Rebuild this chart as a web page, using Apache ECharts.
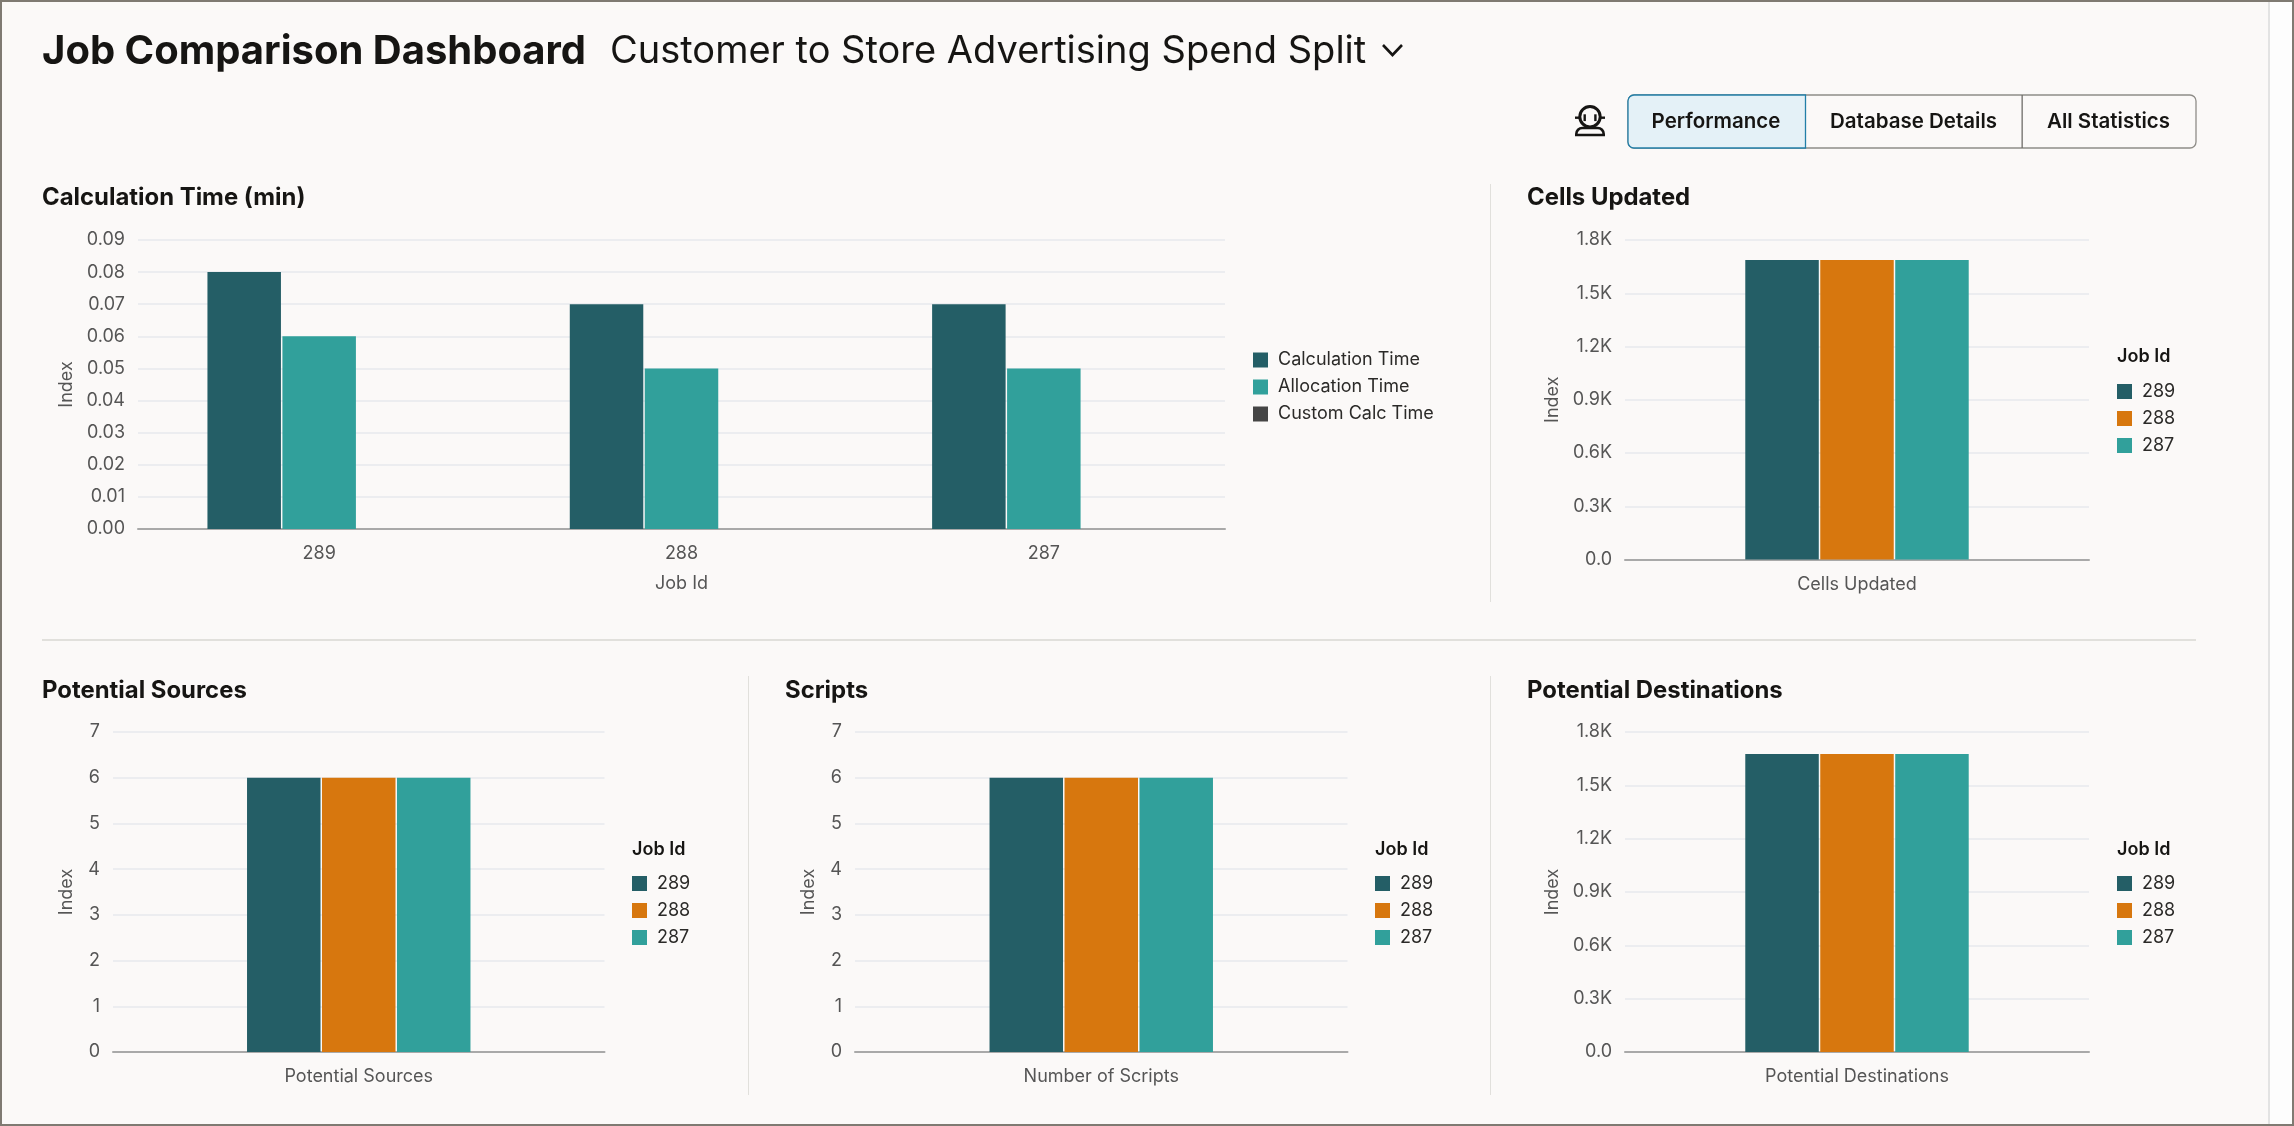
<!DOCTYPE html>
<html>
<head>
<meta charset="utf-8">
<style>html,body{margin:0;padding:0;background:#fbf9f8;overflow:hidden}#c{width:2294px;height:1126px}</style>
<script src="https://cdn.jsdelivr.net/npm/echarts@6/dist/echarts.min.js"></script>
</head>
<body>
<div id="c"></div>
<script>
const jobIds = ['289', '288', '287'];
const calculationTime = [0.08, 0.07, 0.07];
const allocationTime = [0.06, 0.05, 0.05];
const customCalcTime = [0, 0, 0];
const cellsUpdated = [1687, 1687, 1687];
const potentialSources = [6, 6, 6];
const numberOfScripts = [6, 6, 6];
const potentialDestinations = [1676, 1676, 1676];
const timeLegend = ['Calculation Time', 'Allocation Time', 'Custom Calc Time'];

const DARK = '#245e66', ORANGE = '#d7770e', TEAL = '#31a09b', GREY = '#454545';
const FONT = 'Inter';
const LABEL = '#555555';

const grids = [], xAxes = [], yAxes = [], series = [], legends = [], titles = [];
function chart(o) {
  const i = grids.length;
  grids.push({left: o.l, top: o.t, width: o.r - o.l, height: o.b - o.t});
  xAxes.push({
    type: 'category', gridIndex: i, data: o.cats,
    name: o.xName || '', nameLocation: 'middle', nameGap: 46,
    nameTextStyle: {color: LABEL, fontFamily: FONT, fontSize: 18},
    axisTick: {show: false},
    axisLine: {lineStyle: {color: '#a9a9a9', width: 2}},
    axisLabel: {color: LABEL, fontFamily: FONT, fontSize: 18, margin: 16}
  });
  yAxes.push({
    type: 'value', gridIndex: i, min: 0, max: o.max, interval: o.step,
    name: 'Index', nameLocation: 'middle', nameGap: o.gap, nameRotate: 90,
    nameTextStyle: {color: LABEL, fontFamily: FONT, fontSize: 18},
    axisLine: {show: false}, axisTick: {show: false},
    axisLabel: {color: LABEL, fontFamily: FONT, fontSize: 18, margin: 13, formatter: o.fmt},
    splitLine: {lineStyle: {color: '#e7e9ee', width: 1.5}}
  });
  o.series.forEach(s => series.push({
    type: 'bar', name: s.name, xAxisIndex: i, yAxisIndex: i, data: s.data,
    barWidth: 73.5, barGap: '2%', itemStyle: {color: s.color}, silent: true
  }));
  titles.push({text: o.title, left: o.tx, top: o.ty, padding: 0,
    textStyle: {fontFamily: FONT, fontWeight: 700, fontSize: 23.9, color: '#161513'}});
  legends.push({
    orient: 'vertical', left: o.lx, top: o.ly, padding: 0, itemWidth: 15, itemHeight: 15, itemGap: 9,
    data: o.series.map(s => ({name: s.name, icon: 'rect'})), selectedMode: false,
    textStyle: {fontFamily: FONT, fontSize: 18, color: '#2b2a28', padding: [0, 0, 0, 5]}
  });
  if (o.jobTitle) {
    titles.push({text: 'Job Id', left: o.lx, top: o.jy, padding: 0,
      textStyle: {fontFamily: FONT, fontWeight: 600, fontSize: 18, color: '#161513'}});
  }
}
const jobs = d => jobIds.map((n, k) => ({name: n, data: [d[k]], color: [DARK, ORANGE, TEAL][k]}));
const kFmt = v => v === 0 ? '0.0' : (v / 1000).toFixed(1) + 'K';

chart({title: 'Calculation Time (min)', tx: 42, ty: 186, l: 138, r: 1225, t: 240, b: 529, gap: 62,
  cats: jobIds, xName: 'Job Id', max: 0.09, step: 0.01, fmt: v => v.toFixed(2),
  series: [
    {name: timeLegend[0], data: calculationTime, color: DARK},
    {name: timeLegend[1], data: allocationTime, color: TEAL},
    {name: timeLegend[2], data: customCalcTime, color: GREY}
  ], lx: 1253, ly: 351});
chart({title: 'Cells Updated', tx: 1527, ty: 186, l: 1625, r: 2089, t: 240, b: 559.5, gap: 63,
  cats: ['Cells Updated'], max: 1800, step: 300, fmt: kFmt, series: jobs(cellsUpdated),
  lx: 2117, ly: 382.5, jobTitle: true, jy: 348});
chart({title: 'Potential Sources', tx: 42, ty: 679, l: 113, r: 604.5, t: 732, b: 1052, gap: 37,
  cats: ['Potential Sources'], max: 7, step: 1, series: jobs(potentialSources),
  lx: 632, ly: 874.5, jobTitle: true, jy: 840.5});
chart({title: 'Scripts', tx: 785, ty: 679, l: 855, r: 1347.5, t: 732, b: 1052, gap: 37,
  cats: ['Number of Scripts'], max: 7, step: 1, series: jobs(numberOfScripts),
  lx: 1375, ly: 874.5, jobTitle: true, jy: 840.5});
chart({title: 'Potential Destinations', tx: 1527, ty: 679, l: 1625, r: 2089, t: 732, b: 1052, gap: 63,
  cats: ['Potential Destinations'], max: 1800, step: 300, fmt: kFmt, series: jobs(potentialDestinations),
  lx: 2117, ly: 874.5, jobTitle: true, jy: 840.5});

titles.push({text: 'Job Comparison Dashboard', left: 42, top: 32, padding: 0,
  textStyle: {fontFamily: FONT, fontWeight: 700, fontSize: 40, color: '#161513'}});
titles.push({text: 'Customer to Store Advertising Spend Split', left: 610, top: 33, padding: 0,
  textStyle: {fontFamily: FONT, fontWeight: 400, fontSize: 38, color: '#161513'}});

function rect(x, y, w, h, fill) { return {type: 'rect', silent: true, z: 0, shape: {x, y, width: w, height: h}, style: {fill}}; }
function btnText(text, x) {
  return {type: 'text', silent: true, z: 5, style: {text, x, y: 122, align: 'center', verticalAlign: 'middle',
    fontFamily: FONT, fontWeight: 600, fontSize: 20.5, fill: '#161513'}};
}
const FRAME = '#7f7a72', SEP = '#e1e0dc', INK = '#161513';
const graphics = [
  rect(2270, 0, 24, 1126, '#fdfdfd'),
  rect(2268, 0, 2, 1126, '#e3e3e3'),
  rect(0, 0, 2294, 2, FRAME), rect(0, 1124, 2294, 2, FRAME),
  rect(0, 0, 2, 1126, FRAME), rect(2292, 0, 2, 1126, FRAME),
  rect(42, 639, 2154, 2, SEP),
  rect(1490, 184, 1, 418, SEP), rect(748, 676, 1, 419, SEP), rect(1490, 676, 1, 419, SEP),
  {type: 'polyline', silent: true, z: 5, shape: {points: [[1383, 45], [1392.5, 55], [1402, 45]]},
    style: {stroke: INK, lineWidth: 2.6, fill: null}},
  {type: 'rect', silent: true, z: 3, shape: {x: 1628, y: 95, width: 568, height: 53, r: 6},
    style: {fill: '#fbf9f8', stroke: '#8f8d88', lineWidth: 1.3}},
  {type: 'rect', silent: true, z: 4, shape: {x: 1628, y: 95, width: 177.5, height: 53, r: [6, 0, 0, 6]},
    style: {fill: '#e4f1f7', stroke: '#227fa8', lineWidth: 1.3}},
  {type: 'rect', silent: true, z: 4, shape: {x: 2021.5, y: 95, width: 1.3, height: 53}, style: {fill: '#6f6d69'}},
  btnText('Performance', 1716), btnText('Database Details', 1913.5), btnText('All Statistics', 2108.5),
  {type: 'circle', silent: true, z: 5, shape: {cx: 1590, cy: 116.7, r: 10.2}, style: {stroke: INK, lineWidth: 3, fill: null}},
  {type: 'rect', silent: true, z: 5, shape: {x: 1575, y: 116.5, width: 5, height: 2.4}, style: {fill: INK}},
  {type: 'rect', silent: true, z: 5, shape: {x: 1600, y: 116.5, width: 5, height: 2.4}, style: {fill: INK}},
  {type: 'rect', silent: true, z: 5, shape: {x: 1583.5, y: 114.3, width: 2.4, height: 6.8}, style: {fill: INK}},
  {type: 'rect', silent: true, z: 5, shape: {x: 1594.2, y: 114.3, width: 2.4, height: 6.8}, style: {fill: INK}},
  {type: 'rect', silent: true, z: 5, shape: {x: 1576.3, y: 128, width: 27.4, height: 7, r: [6, 6, 0, 0]},
    style: {stroke: INK, lineWidth: 2.6, fill: '#fbf9f8'}}
];

const c = echarts.init(document.getElementById('c'), null, {renderer: 'canvas'});
c.setOption({
  animation: false, backgroundColor: '#fbf9f8',
  grid: grids, xAxis: xAxes, yAxis: yAxes, series, legend: legends, title: titles,
  tooltip: {show: false}, graphic: graphics
});
</script>
</body>
</html>
